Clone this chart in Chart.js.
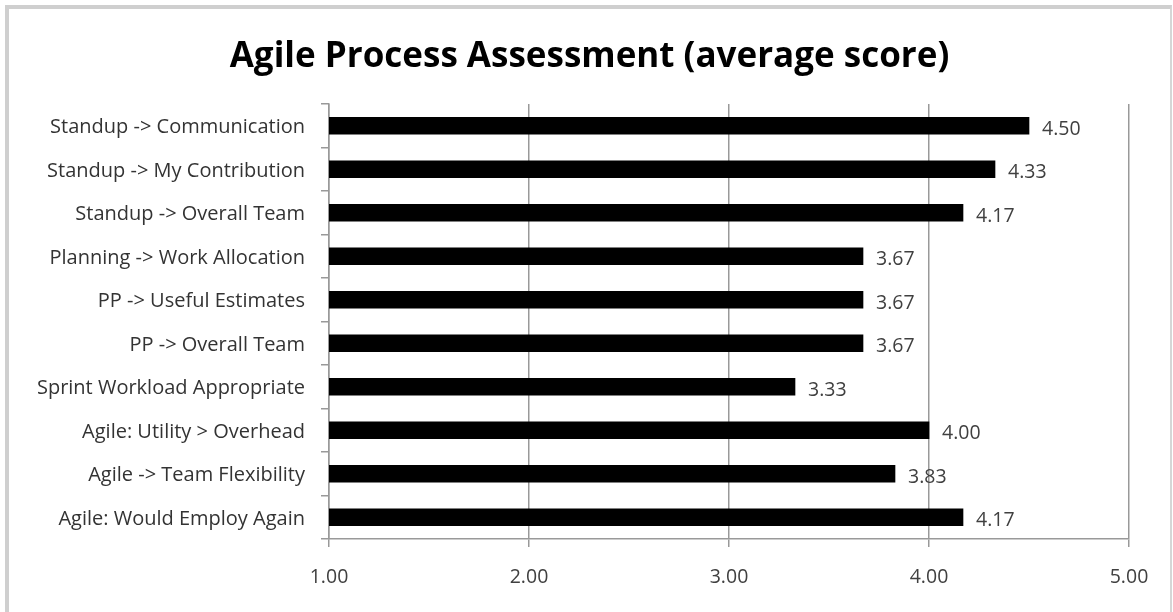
<!DOCTYPE html>
<html>
<head>
<meta charset="utf-8">
<script src="https://cdn.jsdelivr.net/npm/chart.js@4.4.1/dist/chart.umd.min.js"></script>
<style>
  html, body { margin: 0; padding: 0; background: #fff; }
  #wrap { position: relative; width: 1173px; height: 612px; overflow: hidden; }
  #frame { position: absolute; left: 5px; top: 5px; right: 1px; bottom: -10px;
           border-top: 4px solid #cfcfcf; border-left: 4px solid #cfcfcf; border-right: 2px solid #d6d6d6; }
  canvas { position: absolute; left: 0; top: 0; }
</style>
</head>
<body>
<div id="wrap">
  <canvas id="chart" width="1173" height="612"></canvas>
  <div id="frame"></div>
</div>
<script>
// Survey items (top to bottom) and their average scores
const categories = [
  'Standup -> Communication',
  'Standup -> My Contribution',
  'Standup -> Overall Team',
  'Planning -> Work Allocation',
  'PP -> Useful Estimates',
  'PP -> Overall Team',
  'Sprint Workload Appropriate',
  'Agile: Utility > Overhead',
  'Agile -> Team Flexibility',
  'Agile: Would Employ Again'
];
const averageScores = [4.50, 4.33, 4.17, 3.67, 3.67, 3.67, 3.33, 4.00, 3.83, 4.17];
const scoreTicks = [1, 2, 3, 4, 5];
const chartTitle = 'Agile Process Assessment (average score)';

const FONT = "'Open Sans', Lato, sans-serif";

// Title centred across the whole framed canvas (not just the plot area)
const centeredTitle = {
  id: 'centeredTitle',
  afterDraw(chart) {
    const { ctx } = chart;
    ctx.save();
    ctx.font = 'bold 35px ' + FONT;
    ctx.fillStyle = '#000000';
    ctx.textAlign = 'center';
    ctx.textBaseline = 'alphabetic';
    ctx.fillText(chartTitle, chart.width / 2 + 3, 67);
    ctx.restore();
  }
};

// Writes each bar's value just past its end
const valueLabels = {
  id: 'valueLabels',
  afterDatasetsDraw(chart) {
    const { ctx } = chart;
    const meta = chart.getDatasetMeta(0);
    ctx.save();
    ctx.font = '19.5px ' + FONT;
    ctx.fillStyle = '#404040';
    ctx.textAlign = 'left';
    ctx.textBaseline = 'middle';
    meta.data.forEach((bar, i) => {
      const v = chart.data.datasets[0].data[i];
      ctx.fillText(v.toFixed(2), bar.x + 13, bar.y + 3.5);
    });
    ctx.restore();
  }
};

new Chart(document.getElementById('chart'), {
  type: 'bar',
  data: {
    labels: categories,
    datasets: [{
      data: averageScores,
      backgroundColor: '#000000',
      borderWidth: 0,
      barThickness: 17
    }]
  },
  options: {
    indexAxis: 'y',
    responsive: false,
    animation: false,
    layout: { padding: { left: 0, right: 44, top: 104, bottom: 0 } },
    plugins: {
      legend: { display: false },
      tooltip: { enabled: false },
      title: { display: false }
    },
    scales: {
      x: {
        min: 1,
        max: 5,
        afterBuildTicks(scale) {
          scale.ticks = scoreTicks.map(v => ({ value: v }));
        },
        afterFit(scale) { scale.height = 73; },
        grid: {
          color: '#999999',
          lineWidth: 1.5,
          drawTicks: true,
          tickLength: 8,
          tickColor: '#999999'
        },
        border: { display: true, color: '#999999', width: 1.5 },
        ticks: {
          color: '#404040',
          padding: 19,
          font: { family: FONT, size: 19.5 },
          callback: v => Number(v).toFixed(2),
          maxRotation: 0
        }
      },
      y: {
        afterFit(scale) { scale.width = 329; },
        grid: {
          drawOnChartArea: false,
          drawTicks: true,
          tickLength: 8,
          tickColor: '#999999',
          lineWidth: 1.5,
          offset: true
        },
        border: { display: true, color: '#999999', width: 1.5 },
        ticks: {
          color: '#333333',
          padding: 16,
          labelOffset: 2,
          font: { family: FONT, size: 20 },
          autoSkip: false
        }
      }
    }
  },
  plugins: [valueLabels, centeredTitle]
});
</script>
</body>
</html>
